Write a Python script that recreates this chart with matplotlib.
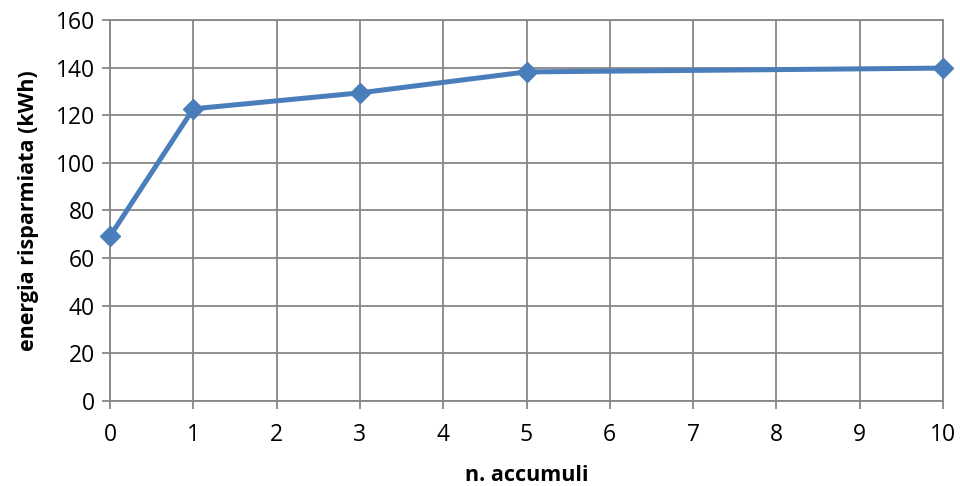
import matplotlib
matplotlib.use("Agg")
import matplotlib.pyplot as plt

x_vals = [0, 1, 3, 5, 10]
energia = [69.2, 122.7, 129.4, 138.2, 139.8]
x_ticks = list(range(0, 11))
y_ticks = list(range(0, 161, 20))

plt.rcParams['font.family'] = ['Open Sans', 'DejaVu Sans']

fig = plt.figure(figsize=(9.6, 4.86), dpi=100)
ax = fig.add_axes([110/960, 85/486, 833/960, 381/486])

grid_c = '#878787'
ax.set_xlim(0, 10)
ax.set_ylim(0, 160)
ax.set_xticks(x_ticks)
ax.set_yticks(y_ticks)
ax.grid(True, color=grid_c, linewidth=1.3)
ax.set_axisbelow(True)
for s in ax.spines.values():
    s.set_color(grid_c)
    s.set_linewidth(1.3)
ax.tick_params(axis='both', colors=grid_c, labelcolor='black', labelsize=16.5,
               length=6, width=1.3, direction='out')
ax.tick_params(axis='y', pad=5)
ax.tick_params(axis='x', pad=10)

ax.plot(x_vals, energia, color='#4a7ebb', linewidth=3.6, marker='D',
        markersize=10.5, clip_on=False, zorder=5)

ax.set_xlabel('n. accumuli', fontsize=15.5, fontweight='bold', labelpad=13)
ax.set_ylabel('energia risparmiata (kWh)', fontsize=15.5, fontweight='bold', labelpad=12)

fig.savefig('out.png', dpi=100)
